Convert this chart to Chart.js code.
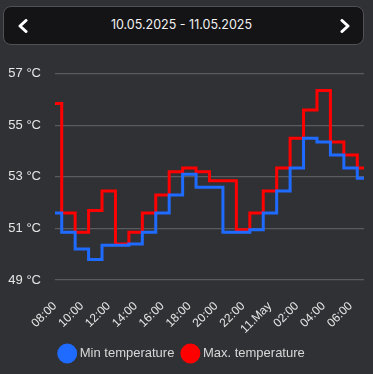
<!DOCTYPE html>
<html>
<head>
<meta charset="utf-8">
<script src="https://cdn.jsdelivr.net/npm/chart.js@4/dist/chart.umd.min.js"></script>
<style>
    body {
        margin: 0;
        width: 373px;
        height: 374px;
        background: #303135;
        font-family: Inter, "Noto Sans", sans-serif;
        overflow: hidden;
    }
    .date-nav {
        position: absolute;
        left: 3px;
        top: 6px;
        width: 361px;
        height: 39px;
        box-sizing: border-box;
        border: 1px solid #505155;
        border-radius: 8px;
        background: #141417;
        color: #f2f2f2;
    }
    .date-nav .title {
        position: absolute;
        left: 0;
        right: 0;
        top: 10px;
        text-align: center;
        font-size: 12.5px;
        padding-right: 4px;
    }
    .date-nav svg { position: absolute; top: 12px; }
    .chart-box {
        position: absolute;
        left: 0;
        top: 52px;
        width: 373px;
        height: 322px;
    }
</style>
</head>
<body>
<div class="date-nav">
    <svg style="left: 13px" width="12" height="14" viewBox="0 0 12 14">
        <polyline points="9,1.5 3,7 9,12.5" fill="none" stroke="#fff" stroke-width="3" stroke-linecap="round" stroke-linejoin="round"/>
    </svg>
    <span class="title">10.05.2025 - 11.05.2025</span>
    <svg style="left: 335px" width="12" height="14" viewBox="0 0 12 14">
        <polyline points="3,1.5 9,7 3,12.5" fill="none" stroke="#fff" stroke-width="3" stroke-linecap="round" stroke-linejoin="round"/>
    </svg>
</div>
<div class="chart-box"><canvas id="tempChart"></canvas></div>
<script>
// Hourly labels, 10.05 08:00 -> 11.05 07:00
const hours = ['08:00', '09:00', '10:00', '11:00', '12:00', '13:00', '14:00', '15:00',
    '16:00', '17:00', '18:00', '19:00', '20:00', '21:00', '22:00', '23:00',
    '11.May', '01:00', '02:00', '03:00', '04:00', '05:00', '06:00', '07:00'];

const minTemp = [51.6, 50.85, 50.2, 49.8, 50.35, 50.35, 50.4, 50.85,
    51.6, 52.3, 53.1, 52.6, 52.6, 50.85, 50.85, 50.95,
    51.6, 52.45, 53.35, 54.5, 54.35, 53.85, 53.35, 52.95];

const maxTemp = [55.85, 51.6, 50.85, 51.7, 52.45, 50.4, 50.85, 51.6,
    52.3, 53.2, 53.35, 53.2, 52.85, 52.85, 50.95, 51.6,
    52.45, 53.35, 54.5, 55.6, 56.35, 54.35, 53.85, 53.35];

const yTicks = [49, 51, 53, 55, 57];

const ctx = document.getElementById('tempChart');

new Chart(ctx, {
    type: 'line',
    data: {
        labels: hours,
        datasets: [
            {
                label: 'Min temperature',
                data: minTemp,
                borderColor: '#1f6bff',
                backgroundColor: '#1f6bff',
                borderWidth: 3,
                pointRadius: 0,
                stepped: 'middle',
                fill: false
            },
            {
                label: 'Max. temperature',
                data: maxTemp,
                borderColor: '#ff0000',
                backgroundColor: '#ff0000',
                borderWidth: 3,
                pointRadius: 0,
                stepped: 'middle',
                fill: false
            }
        ]
    },
    options: {
        responsive: true,
        maintainAspectRatio: false,
        animation: false,
        layout: {
            padding: { left: 2, right: 9, top: 10, bottom: 4 }
        },
        scales: {
            x: {
                grid: { display: false },
                border: { display: false },
                afterFit: function(axis) {
                    axis.height = 57;
                    axis.paddingLeft = 0;
                    axis.paddingRight = 0;
                },
                ticks: {
                    color: '#e6e6e6',
                    font: { size: 12 },
                    autoSkip: false,
                    minRotation: 45,
                    maxRotation: 45,
                    padding: 11,
                    callback: function(value, index) {
                        return index % 2 === 0 ? hours[index] : null;
                    }
                }
            },
            y: {
                min: 49,
                max: 57,
                afterBuildTicks: function(axis) {
                    axis.ticks = yTicks.map(v => ({ value: v }));
                },
                afterFit: function(axis) {
                    axis.width = 53;
                },
                grid: {
                    color: '#5a5b5f',
                    lineWidth: 1.2,
                    drawTicks: false
                },
                border: { display: false },
                ticks: {
                    color: '#e6e6e6',
                    font: { size: 13 },
                    padding: 14,
                    callback: function(value) {
                        return value + ' °C';
                    }
                }
            }
        },
        plugins: {
            legend: {
                position: 'bottom',
                labels: {
                    color: '#d8d8d8',
                    font: { size: 13 },
                    usePointStyle: true,
                    pointStyle: 'circle',
                    boxWidth: 12,
                    boxHeight: 12,
                    padding: 10
                }
            },
            tooltip: { enabled: false }
        }
    }
});
</script>
</body>
</html>
